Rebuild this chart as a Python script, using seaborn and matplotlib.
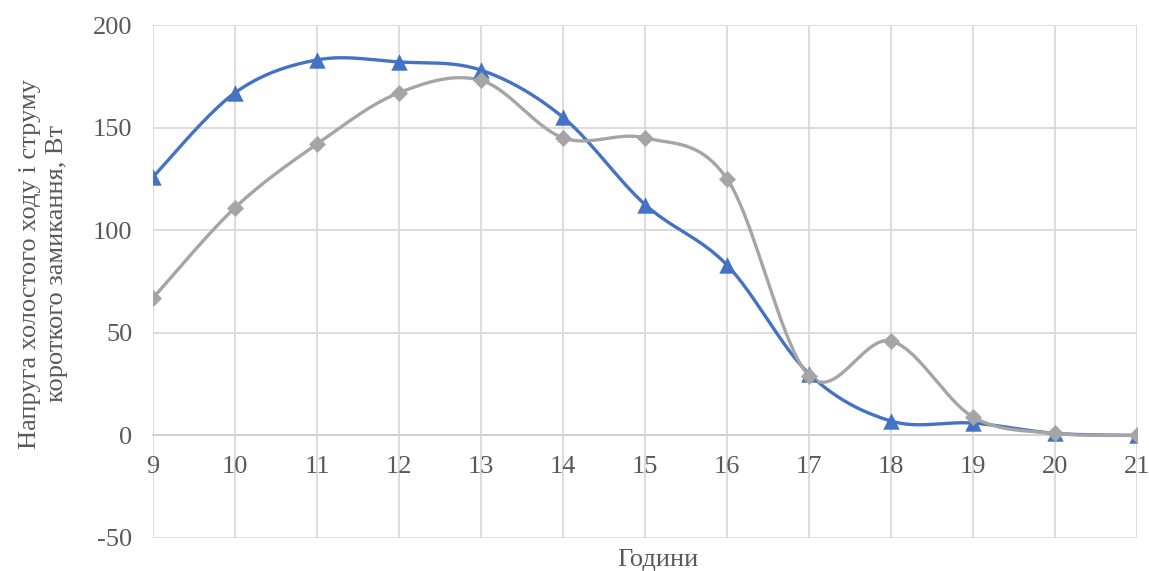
import numpy as np
import pandas as pd
import matplotlib
matplotlib.use("Agg")
import matplotlib.pyplot as plt
import seaborn as sns

hours = [9, 10, 11, 12, 13, 14, 15, 16, 17, 18, 19, 20, 21]
series_blue = [126, 167, 183, 182, 178, 155, 112.5, 83, 30, 7, 6, 1, 0]
series_gray = [67, 111, 142, 167, 173, 145, 145, 125, 29, 46, 9, 1, 0]
y_ticks = [-50, 0, 50, 100, 150, 200]
x_label = "Години"
y_label = "Напруга холостого ходу і струму\nкороткого замикання, Вт"

BLUE = "#4472C4"
GRAY = "#A5A5A5"
TXT = "#595959"
GRID = "#D9D9D9"


def smooth(xs, ys, n=40):
    xs = np.asarray(xs, float)
    ys = np.asarray(ys, float)
    px = np.concatenate([[xs[0]], xs, [xs[-1]]])
    py = np.concatenate([[ys[0]], ys, [ys[-1]]])
    ox, oy = [], []
    t = np.linspace(0, 1, n)
    for i in range(1, len(px) - 2):
        p0 = np.array([px[i], py[i]])
        p3 = np.array([px[i + 1], py[i + 1]])
        c1 = p0 + (np.array([px[i + 1], py[i + 1]]) - np.array([px[i - 1], py[i - 1]])) / 6
        c2 = p3 - (np.array([px[i + 2], py[i + 2]]) - np.array([px[i], py[i]])) / 6
        b = ((1 - t) ** 3)[:, None] * p0 + (3 * (1 - t) ** 2 * t)[:, None] * c1 \
            + (3 * (1 - t) * t ** 2)[:, None] * c2 + (t ** 3)[:, None] * p3
        ox.extend(b[:, 0])
        oy.extend(b[:, 1])
    return np.array(ox), np.array(oy)


sns.set_theme(style="white")
plt.rcParams["font.family"] = ["Liberation Serif", "DejaVu Serif"]
plt.rcParams["axes.unicode_minus"] = False

fig = plt.figure(figsize=(11.49, 5.71), dpi=100)
ax = fig.add_axes([0.1332, 0.0578, 0.9896 - 0.1332, 0.9562 - 0.0578])

df = pd.DataFrame({"h": hours, "blue": series_blue, "gray": series_gray})

for col, color, marker, ms in [("blue", BLUE, "^", 140), ("gray", GRAY, "D", 75)]:
    sx, sy = smooth(df["h"], df[col])
    sns.lineplot(x=sx, y=sy, ax=ax, color=color, linewidth=2.4, sort=False, zorder=3)
    sns.scatterplot(x=df["h"], y=df[col], ax=ax, color=color, marker=marker, s=ms,
                    edgecolor=color, linewidth=0, zorder=4)

ax.set_xlim(9, 21)
ax.set_ylim(-50, 200)
ax.set_xticks(hours)
ax.set_yticks(y_ticks)
ax.set_xticklabels([str(h) for h in hours])
ax.grid(True, color=GRID, linewidth=1.3, zorder=0)
ax.set_axisbelow(True)
ax.get_xgridlines()[0].set_visible(False)

for s in ["top", "right", "left"]:
    ax.spines[s].set_visible(False)
ax.spines["bottom"].set_position(("data", 0))
ax.spines["bottom"].set_color("#D0D0D0")
ax.spines["bottom"].set_linewidth(1.3)
ax.spines["bottom"].set_zorder(1)

ax.tick_params(axis="x", which="both", length=5, width=1.2, color="#D0D0D0",
               direction="out", labelsize=19, labelcolor=TXT, pad=10)
ax.tick_params(axis="y", length=5, width=1.3, color=GRID, direction="out",
               labelsize=19, labelcolor=TXT, pad=10)

ax.set_xlabel("")
ax.set_ylabel("")
fig.text(0.5725, 0.019, x_label, ha="center", va="center", fontsize=19, color=TXT)
fig.text(0.038, 0.538, y_label, ha="center", va="center", rotation=90,
         fontsize=19, color=TXT, linespacing=1.3, multialignment="center")

fig.savefig("out.png", dpi=100)
